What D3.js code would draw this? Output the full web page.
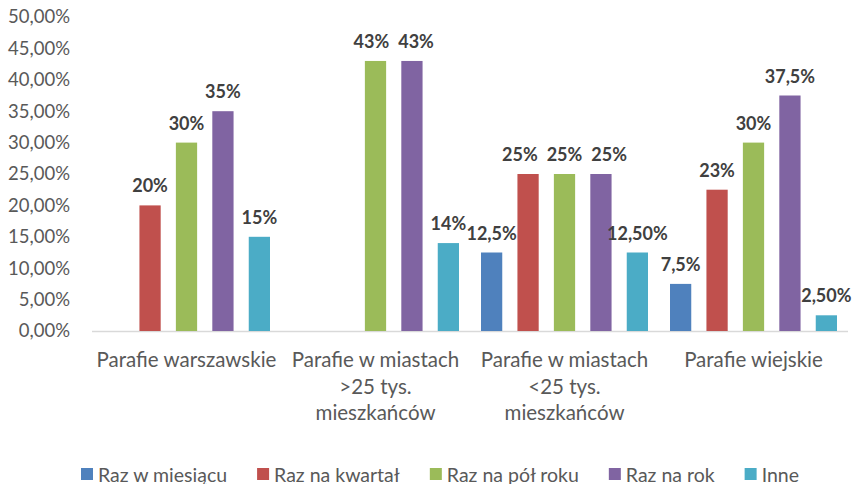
<!DOCTYPE html>
<html><head><meta charset="utf-8">
<script src="https://cdn.jsdelivr.net/npm/d3@7"></script>
<style>body{margin:0;background:#fff}svg{display:block}text{font-family:Lato,"Open Sans",sans-serif}</style>
</head><body><svg id="c" width="862" height="484"></svg>
<script>
const categories = [["Parafie warszawskie"],["Parafie w miastach",">25 tys.","mieszkańców"],["Parafie w miastach","<25 tys.","mieszkańców"],["Parafie wiejskie"]];
const seriesNames = ["Raz w miesiącu","Raz na kwartał","Raz na pół roku","Raz na rok","Inne"];
const colors = ["#4F81BD","#C0504D","#9BBB59","#8064A2","#4BACC6"];
const rzMiesiacu = [null, null, 12.5, 7.5];
const rzKwartal = [20, null, 25, 22.5];
const rzPolRoku = [30, 43, 25, 30];
const rzRok = [35, 43, 25, 37.5];
const inne = [15, 14, 12.5, 2.5];
const labels = [
  [null,"20%","30%","35%","15%"],
  [null,null,"43%","43%","14%"],
  ["12,5%","25%","25%","25%","12,50%"],
  ["7,5%","23%","30%","37,5%","2,50%"]
];
const yTicks = [0,5,10,15,20,25,30,35,40,45,50];
const series = [rzMiesiacu, rzKwartal, rzPolRoku, rzRok, inne];

const svg = d3.select("#c");
const mLeft = 92, mRight = 848, mTop = 17, mBottom = 331;
const x0 = d3.scaleBand().domain(d3.range(categories.length)).range([mLeft, mRight]);
const x1 = d3.scaleBand().domain(d3.range(seriesNames.length)).range([11, x0.bandwidth()-11]).paddingInner(0.4167).paddingOuter(0);
const y = d3.scaleLinear().domain([0,50]).range([mBottom, mTop]);

const yAxis = d3.axisLeft(y).tickValues(yTicks).tickSize(0).tickPadding(0)
  .tickFormat(d => d.toFixed(2).replace(".", ",") + "%");
const ga = svg.append("g").attr("transform", `translate(70,0)`).call(yAxis);
ga.select(".domain").remove();
ga.selectAll("text").attr("fill","#595959").style("font-size","18.5px").style("font-family","Lato,sans-serif");

svg.append("line").attr("x1", mLeft).attr("x2", mRight).attr("y1", y(0)+0.5).attr("y2", y(0)+0.5)
  .attr("stroke","#D9D9D9").attr("stroke-width",1.3);

categories.forEach((cat, ci) => {
  const g = svg.append("g").attr("transform", `translate(${x0(ci)},0)`);
  const labs = [];
  series.forEach((s, si) => {
    const v = s[ci];
    if (v == null) return;
    g.append("rect").attr("x", x1(si)).attr("width", x1.bandwidth())
      .attr("y", y(v)).attr("height", y(0) - y(v)).attr("fill", colors[si]);
    const lab = labels[ci][si];
    if (lab) {
      const t = g.append("text").attr("x", x1(si) + x1.bandwidth()/2).attr("y", y(v) - 20)
        .attr("text-anchor","middle").attr("dominant-baseline","central")
        .attr("fill","#404040").style("font-size","18px").style("font-weight","bold").text(lab);
      labs.push({t, cx: x1(si) + x1.bandwidth()/2, v, w: t.node().getComputedTextLength()});
    }
  });
  // spread runs of equal-height labels that would overlap
  let i = 0;
  while (i < labs.length) {
    let j = i;
    while (j + 1 < labs.length && labs[j+1].v === labs[i].v && labs[j+1].cx - labs[j].cx < (labs[j].w + labs[j+1].w)/2 + 10) j++;
    if (j > i) {
      const run = labs.slice(i, j+1);
      const mean = d3.mean(run, d => d.cx);
      const sp = d3.max(run, d => d.w) + 9;
      run.forEach((d, k) => d.t.attr("x", mean + (k - (run.length-1)/2) * sp));
    }
    i = j + 1;
  }
  cat.forEach((line, li) => {
    svg.append("text").attr("x", x0(ci) + x0.bandwidth()/2).attr("y", 359 + li*26.5)
      .attr("text-anchor","middle").attr("dominant-baseline","central")
      .attr("fill","#595959").style("font-size","20.5px").text(line);
  });
});

const lg = svg.append("g");
let lx = 0;
seriesNames.forEach((n, i) => {
  lg.append("rect").attr("x", lx).attr("y", 468).attr("width", 12).attr("height", 12).attr("fill", colors[i]);
  const t = lg.append("text").attr("x", lx + 17).attr("y", 474).attr("dominant-baseline","central")
    .attr("fill","#595959").style("font-size","19.5px").text(n);
  lx += 17 + t.node().getComputedTextLength() + (i < seriesNames.length-1 ? 30 : 0);
});
lg.attr("transform", `translate(${440 - lx/2},0)`);
</script></body></html>
